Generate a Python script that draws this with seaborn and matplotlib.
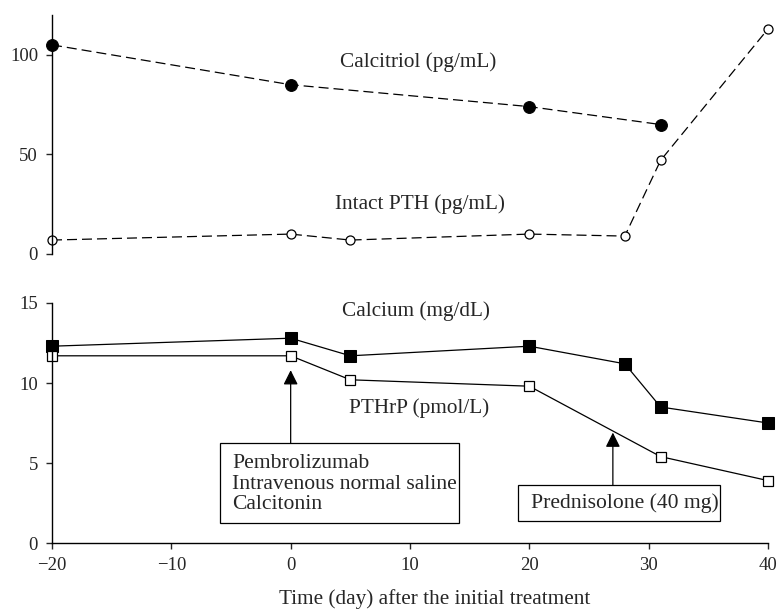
import numpy as np
import pandas as pd
import matplotlib
matplotlib.use('Agg')
import matplotlib.pyplot as plt
from matplotlib.patches import Rectangle
import seaborn as sns

# values
calcitriol_day = [-20, 0, 20, 31]
calcitriol_val = [105, 85, 74, 65]
pth_day = [-20, 0, 5, 20, 28, 31, 40]
pth_val = [7, 10, 7, 10, 9, 47, 113]
calcium_day = [-20, 0, 5, 20, 28, 31, 40]
calcium_val = [12.3, 12.8, 11.7, 12.3, 11.2, 8.5, 7.5]
pthrp_day = [-20, 0, 5, 20, 31, 40]
pthrp_val = [11.7, 11.7, 10.2, 9.8, 5.4, 3.9]

top_yticks = [0, 50, 100]
bottom_yticks = [0, 5, 10, 15]
xticks = [-20, -10, 0, 10, 20, 30, 40]

sns.set_style('ticks')
plt.rcParams['font.family'] = ['Liberation Serif', 'DejaVu Serif']
plt.rcParams['axes.linewidth'] = 1.0
plt.rcParams['axes.edgecolor'] = 'black'

fig = plt.figure(figsize=(7.78, 6.09), dpi=100)
ax_top = fig.add_axes([52/778, 1-254/609, 716/778, 239/609])
ax_bot = fig.add_axes([52/778, 1-543/609, 716/778, 240/609])

line_kw = dict(color='black', linewidth=0.9, estimator=None, sort=False, clip_on=False)
dash = (0, (8, 4))

# top panel: calcitriol and intact PTH
sns.lineplot(x=calcitriol_day, y=calcitriol_val, ax=ax_top, linestyle=dash, marker='o',
             markersize=8.5, markerfacecolor='black', markeredgecolor='black', **line_kw)
sns.lineplot(x=pth_day, y=pth_val, ax=ax_top, linestyle=dash, marker='o',
             markersize=6.5, markerfacecolor='white', markeredgecolor='black', markeredgewidth=0.9,
             **line_kw)

ax_top.set_xlim(-20, 40)
ax_top.set_ylim(0, 120)
ax_top.set_yticks(top_yticks)
ax_top.set_xticks([])
for s in ['top', 'right', 'bottom']:
    ax_top.spines[s].set_visible(False)
ax_top.tick_params(axis='y', labelsize=13.5, length=4, width=1, pad=6, direction='out')
ax_top.text(10.7, 96.5, 'Calcitriol (pg/mL)', fontsize=15.3, ha='center', va='center')
ax_top.text(10.8, 25, 'Intact PTH (pg/mL)', fontsize=15.3, ha='center', va='center')
ax_top.set_xlabel('')
ax_top.set_ylabel('')

# bottom panel: calcium and PTHrP
sns.lineplot(x=calcium_day, y=calcium_val, ax=ax_bot, marker='s',
             markersize=8.5, markerfacecolor='black', markeredgecolor='black', **line_kw)
sns.lineplot(x=pthrp_day, y=pthrp_val, ax=ax_bot, marker='s',
             markersize=7, markerfacecolor='white', markeredgecolor='black', markeredgewidth=0.9,
             **line_kw)

ax_bot.set_xlim(-20, 40)
ax_bot.set_ylim(0, 15)
ax_bot.set_yticks(bottom_yticks)
ax_bot.set_xticks(xticks)
for s in ['top', 'right']:
    ax_bot.spines[s].set_visible(False)
ax_bot.tick_params(axis='both', labelsize=13.5, length=4, width=1, pad=6, direction='out')
ax_bot.text(10.5, 14.5, 'Calcium (mg/dL)', fontsize=15.3, ha='center', va='center')
ax_bot.text(10.8, 8.45, 'PTHrP (pmol/L)', fontsize=15.3, ha='center', va='center')
ax_bot.set_ylabel('')
ax_bot.set_xlabel('Time (day) after the initial treatment', fontsize=15.3)
ax_bot.xaxis.set_label_coords(0.535, -0.19)

# treatment annotations
arrow = dict(arrowstyle='-|>', color='black', lw=0.9, mutation_scale=22, shrinkA=0, shrinkB=0)
ax_bot.annotate('', xy=(0, 10.8), xytext=(0, 6.25), arrowprops=arrow)
ax_bot.add_patch(Rectangle((-5.93, 1.25), 20.01, 5.0, fill=True, facecolor='white',
                           edgecolor='black', linewidth=0.9, clip_on=False))
ax_bot.text(-4.9, 3.68, 'Pembrolizumab\nIntravenous normal saline\nCalcitonin',
            fontsize=15.6, ha='left', va='center', linespacing=1.12)

ax_bot.annotate('', xy=(27, 6.9), xytext=(27, 3.63), arrowprops=arrow)
ax_bot.add_patch(Rectangle((19.03, 1.39), 16.96, 2.24, fill=True, facecolor='white',
                           edgecolor='black', linewidth=0.9, clip_on=False))
ax_bot.text(20.1, 2.5, 'Prednisolone (40 mg)', fontsize=15.6, ha='left', va='center')

fig.savefig('out.png', dpi=100)
